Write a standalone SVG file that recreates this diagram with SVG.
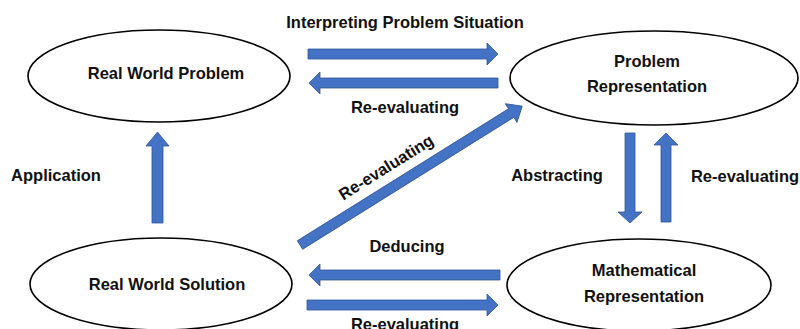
<svg xmlns="http://www.w3.org/2000/svg" width="800" height="329" viewBox="0 0 800 329">
  <style>
    .node { fill: #ffffff; stroke: #000000; stroke-width: 1.6; }
    .arrow { fill: #4472c4; stroke: #2f5597; stroke-width: 0.8; stroke-linejoin: miter; }
    text { font-family: "Liberation Sans", Arial, sans-serif; font-weight: bold; font-size: 16.5px; fill: #111111; text-anchor: middle; }
  </style>
  <rect width="800" height="329" fill="#ffffff"/>

  <!-- Nodes -->
  <g id="real-world-problem">
    <ellipse class="node" cx="159" cy="76" rx="131" ry="46"/>
    <text x="166" y="79">Real World Problem</text>
  </g>
  <g id="problem-representation">
    <ellipse class="node" cx="654" cy="78" rx="144" ry="47"/>
    <text x="647" y="67">Problem</text>
    <text x="647" y="92">Representation</text>
  </g>
  <g id="real-world-solution">
    <ellipse class="node" cx="161" cy="284" rx="131" ry="46"/>
    <text x="167" y="290">Real World Solution</text>
  </g>
  <g id="mathematical-representation">
    <ellipse class="node" cx="639" cy="285" rx="132" ry="46"/>
    <text x="644" y="276">Mathematical</text>
    <text x="644" y="302">Representation</text>
  </g>

  <!-- Connectors -->
  <g id="connectors">
    <!-- Real World Problem -> Problem Representation -->
    <polygon class="arrow" points="308,49 487,49 487,43 498,54 487,65 487,59 308,59"/>
    <text x="405" y="28">Interpreting Problem Situation</text>
    <!-- Problem Representation -> Real World Problem -->
    <polygon class="arrow" points="498,78 320,78 320,72 309,83 320,94 320,88 498,88"/>
    <text x="405" y="113">Re-evaluating</text>

    <!-- Problem Representation -> Mathematical Representation -->
    <polygon class="arrow" points="625,133 635,133 635,212 642,212 630,223 618,212 625,212"/>
    <text x="557" y="181">Abstracting</text>
    <!-- Mathematical Representation -> Problem Representation -->
    <polygon class="arrow" points="661,222 671,222 671,145 678,145 666,133 654,145 661,145"/>
    <text x="745" y="182">Re-evaluating</text>

    <!-- Mathematical Representation -> Real World Solution -->
    <polygon class="arrow" points="500,270 320,270 320,264 309,275 320,286 320,280 500,280"/>
    <text x="407" y="252">Deducing</text>
    <!-- Real World Solution -> Mathematical Representation -->
    <polygon class="arrow" points="307,300 487,300 487,294 498,305 487,316 487,310 307,310"/>
    <text x="405" y="330">Re-evaluating</text>

    <!-- Real World Solution -> Real World Problem -->
    <polygon class="arrow" points="152,223 163,223 163,146 169,146 157.5,132 146,146 152,146"/>
    <text x="56" y="181">Application</text>

    <!-- Real World Solution -> Problem Representation -->
    <g transform="translate(300,245) rotate(-32)">
      <polygon class="arrow" points="0,-5 249,-5 249,-11 262,0 249,11 249,5 0,5"/>
    </g>
    <text transform="translate(389,172) rotate(-32)" x="0" y="0">Re-evaluating</text>
  </g>
</svg>
